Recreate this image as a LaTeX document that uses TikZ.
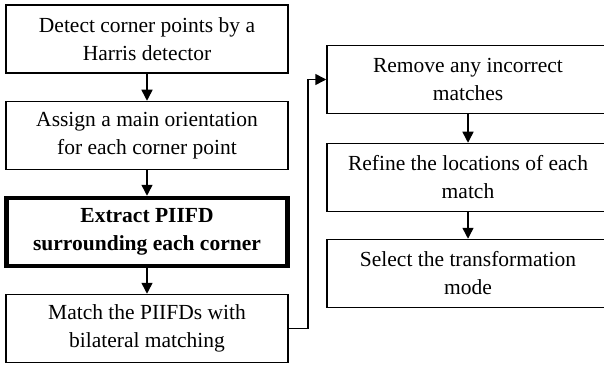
\documentclass[tikz,border=0pt]{standalone}
\usepackage{fontspec}
\setmainfont{Liberation Serif}
\usetikzlibrary{arrows.meta}
\begin{document}
\begin{tikzpicture}[x=1pt,y=1pt,>={Triangle[length=11pt,width=11pt]},
  stage/.style={draw,line width=1.5pt,minimum width=282pt,minimum height=68pt,
    inner sep=0pt,align=center,font=\fontsize{21.5}{28}\selectfont}]
  \useasboundingbox (0,0) rectangle (604,-366);
  % left column
  \node[stage] (det) at (147,-39) {Detect corner points by a\\Harris detector};
  \node[stage] (ori) at (147,-135.5) {Assign a main orientation\\for each corner point};
  \node[stage,line width=4.5pt,minimum width=281pt,minimum height=68pt] (ext) at (147,-232) {\textbf{Extract PIIFD}\\\textbf{surrounding each corner}};
  \node[stage] (mat) at (147,-328.5) {Match the PIIFDs with\\bilateral matching};
  % right column
  \node[stage] (rem) at (468,-79.5) {Remove any incorrect\\matches};
  \node[stage] (ref) at (468,-177.5) {Refine the locations of each\\match};
  \node[stage] (sel) at (468,-273.5) {Select the transformation\\mode};
  \draw [->,line width=1.5pt] (det) -- (ori);
  \draw [->,line width=1.5pt] (ori) -- (ext);
  \draw [->,line width=1.5pt] (ext) -- (mat);
  \draw [->,line width=1.5pt] (mat.east) -- ++(19,0) |- (rem.west);
  \draw [->,line width=1.5pt] (rem) -- (ref);
  \draw [->,line width=1.5pt] (ref) -- (sel);
\end{tikzpicture}
\end{document}
